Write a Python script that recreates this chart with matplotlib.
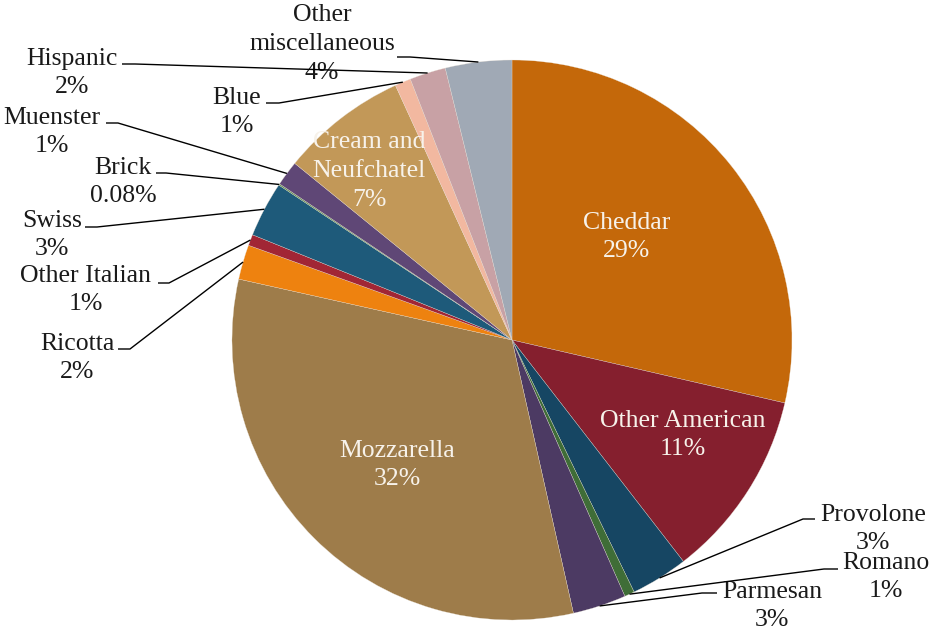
import matplotlib
matplotlib.use("Agg")
import matplotlib.pyplot as plt
import numpy as np

# ---- data ----
categories = ["Cheddar", "Other American", "Provolone", "Romano", "Parmesan",
              "Mozzarella", "Ricotta", "Other Italian", "Swiss", "Brick",
              "Muenster", "Cream and\nNeufchatel", "Blue", "Hispanic",
              "Other\nmiscellaneous"]
shares = [28.6, 10.9, 3.3, 0.58, 3.08, 32.0, 2.0, 0.64, 3.2, 0.08,
          1.45, 7.3, 0.92, 2.08, 3.83]
pct_labels = ["29%", "11%", "3%", "1%", "3%", "32%", "2%", "1%", "3%",
              "0.08%", "1%", "7%", "1%", "2%", "4%"]
colors = ["#C4680A", "#851F2E", "#164663", "#3F6D37", "#4C3A63",
          "#9E7C4A", "#EE820F", "#A12635", "#1E5A7A", "#5D8C4E",
          "#5F4776", "#C29858", "#F2B8A0", "#C8A1A5", "#A0A9B5"]

W, H = 932, 631
FONT = "Liberation Serif"
FS = 18.5
LS = 1.4

fig = plt.figure(figsize=(W / 100, H / 100), dpi=100)
ax = fig.add_axes([0, 0, 1, 1])

cx, cy_img, R = 512, 340, 280
center = (cx, H - cy_img)
wedges, _ = ax.pie(shares, colors=colors, startangle=90, counterclock=False,
                   center=center, radius=R,
                   wedgeprops=dict(linewidth=0.2, edgecolor="#e8e0d4"))
ax.set_xlim(0, W)
ax.set_ylim(0, H)
ax.set_aspect("equal")
ax.axis("off")

def Y(y):
    return H - y

# inside labels: index -> text center (image coords)
inside = {0: (627, 237), 1: (683, 435), 5: (397, 465), 11: (369, 171)}
for i, (tx, ty) in inside.items():
    ax.text(tx, Y(ty), categories[i] + "\n" + pct_labels[i], ha="center",
            va="center", multialignment="center", color="#F7F2EA",
            fontsize=FS, family=FONT, linespacing=LS)

# outside labels: index -> (text center, leader start x, leader y, leader elbow x)
outside = {
    14: ((322, 44), 397, 57, 410),
    13: ((72, 73), 122, 64, 135),
    12: ((237, 112), 266, 103, 279),
    10: ((52, 132), 106, 123, 118),
    9: ((123, 182), 156, 173, 166),
    8: ((52, 235), 85, 227, 97),
    7: ((86, 290), 158, 283, 169),
    6: ((77, 358), 118, 349, 130),
    2: ((873, 529), 815, 519, 803),
    3: ((886, 577), 838, 569, 824),
    4: ((772, 606), 717, 593, 702),
}
for i, ((tx, ty), lx, ly, ex) in outside.items():
    ax.text(tx, Y(ty), categories[i] + "\n" + pct_labels[i], ha="center",
            va="center", multialignment="center", color="#1a1a1a",
            fontsize=FS, family=FONT, linespacing=LS, zorder=3)
    w = wedges[i]
    mid = np.deg2rad((w.theta1 + w.theta2) / 2)
    px = center[0] + R * np.cos(mid)
    py = center[1] + R * np.sin(mid)
    ax.plot([lx, ex, px], [Y(ly), Y(ly), py], color="black", lw=1.0,
            zorder=4, solid_capstyle="butt")

fig.savefig("out.png", dpi=100)
